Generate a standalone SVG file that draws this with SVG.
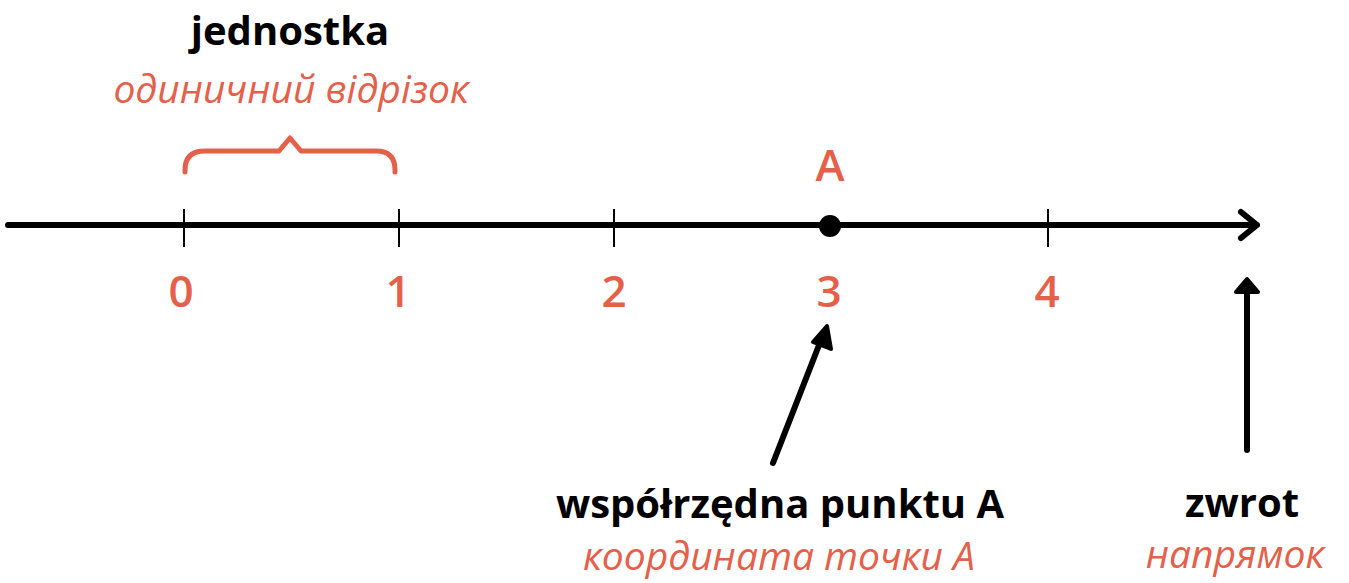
<svg xmlns="http://www.w3.org/2000/svg" width="1349" height="583" viewBox="0 0 1349 583">
<style>
.b{font-family:"Open Sans","Noto Sans",sans-serif;font-weight:bold;font-size:40px;fill:#000;text-anchor:middle}
.i{font-family:"Open Sans","Noto Sans",sans-serif;font-style:italic;font-size:39px;fill:#E5604A;text-anchor:middle}
.d{font-family:"Open Sans","Noto Sans",sans-serif;font-weight:600;font-size:44px;fill:#E5604A;text-anchor:middle}
.tick{stroke:#000;stroke-width:2}
.ln{stroke:#000;stroke-width:6;stroke-linecap:round;stroke-linejoin:round;fill:none}
</style>
<rect width="1349" height="583" fill="#fff"/>
<g id="connectors">
<path class="ln" d="M8,225 H1257 M1241,212 L1257,225 L1241,238"/>
<line class="tick" x1="184" y1="209" x2="184" y2="247"/>
<line class="tick" x1="399" y1="209" x2="399" y2="247"/>
<line class="tick" x1="614" y1="209" x2="614" y2="247"/>
<line class="tick" x1="1048" y1="209" x2="1048" y2="247"/>
<path class="ln" d="M773,463 L821,340"/>
<polygon points="827,326 813,342 831,349" fill="#000" stroke="#000" stroke-width="4" stroke-linejoin="round"/>
<path class="ln" d="M1247,450 V292"/>
<polygon points="1247,279 1236,292 1258,292" fill="#000" stroke="#000" stroke-width="4" stroke-linejoin="round"/>
</g>
<g id="brace">
<path d="M185,172 V170 Q185,151 205,151 H279 L290,138 L301,151 H376 Q395,151 395,170 V172" fill="none" stroke="#E5604A" stroke-width="5" stroke-linecap="round" stroke-linejoin="round"/>
</g>
<g id="pointA">
<circle cx="830" cy="226" r="11" fill="#000"/>
<text class="d" x="830" y="181" font-size="50">A</text>
</g>
<g id="labels">
<text class="d" x="181" y="307">0</text>
<text class="d" x="398" y="307">1</text>
<text class="d" x="614" y="307">2</text>
<text class="d" x="829" y="307">3</text>
<text class="d" x="1047" y="307">4</text>
</g>
<g id="unit">
<text class="b" x="290" y="45">jednostka</text>
<text class="i" x="291" y="103">одиничний відрізок</text>
</g>
<g id="coord">
<text class="b" x="780" y="518">współrzędna punktu A</text>
<text class="i" x="779" y="570">координата точки А</text>
</g>
<g id="direction">
<text class="b" x="1242" y="517">zwrot</text>
<text class="i" x="1235" y="568">напрямок</text>
</g>
</svg>
